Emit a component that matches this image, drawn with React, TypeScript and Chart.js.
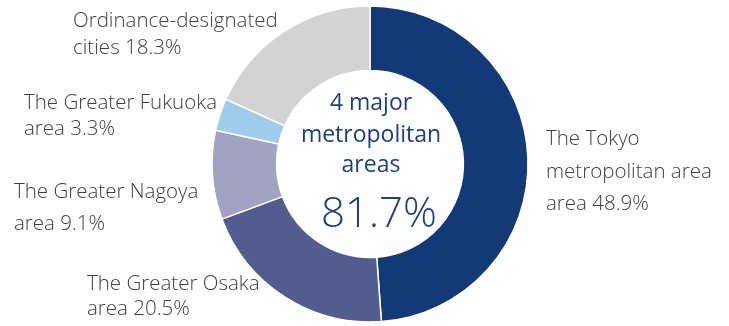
import React, { useEffect, useRef } from "react";
import { Chart, registerables } from "chart.js";

Chart.register(...registerables);

const categories = [
  "The Tokyo metropolitan area",
  "The Greater Osaka area",
  "The Greater Nagoya area",
  "The Greater Fukuoka area",
  "Ordinance-designated cities",
];
const shares = [48.9, 20.5, 9.1, 3.3, 18.3];
const colors = ["#133a77", "#525c8f", "#a2a2c2", "#a0cbeb", "#d3d3d3"];
const labelLines = [
  ["The Tokyo", "metropolitan area", "area 48.9%"],
  ["The Greater Osaka", "area 20.5%"],
  ["The Greater Nagoya", "area 9.1%"],
  ["The Greater Fukuoka", "area 3.3%"],
  ["Ordinance-designated", "cities 18.3%"],
];
const centerLines = ["4 major", "metropolitan", "areas"];
const centerValue = "81.7%";

// label layout: offset of left edge / baselines relative to doughnut centre
const labelLayout = [
  { dx: 176, dy: [-19, 14, 46] },
  { dx: -283, dy: [126, 151] },
  { dx: -356, dy: [34, 66] },
  { dx: -346, dy: [-55, -29] },
  { dx: -297, dy: [-137, -110] },
];

const FONT = "'Open Sans', 'Noto Sans', sans-serif";

const labelPlugin = {
  id: "customLabels",
  afterDraw(chart: any) {
    const meta = chart.getDatasetMeta(0);
    const arc = meta.data[0];
    if (!arc) return;
    const cx = arc.x;
    const cy = arc.y;
    const ctx = chart.ctx;
    ctx.save();
    ctx.fillStyle = "#404040";
    ctx.font = `300 20.5px ${FONT}`;
    ctx.textAlign = "left";
    ctx.textBaseline = "alphabetic";
    labelLines.forEach((lines, i) => {
      const l = labelLayout[i];
      lines.forEach((t, j) => {
        ctx.fillText(t, cx + l.dx, cy + l.dy[j]);
      });
    });
    ctx.fillStyle = "#1d3f7e";
    ctx.textAlign = "center";
    ctx.font = `400 23px ${FONT}`;
    const cdy = [-54, -22, 8];
    centerLines.forEach((t, j) => ctx.fillText(t, cx + 1, cy + cdy[j]));
    ctx.font = `300 42px ${FONT}`;
    ctx.fillText(centerValue, cx + 9, cy + 63);
    ctx.restore();
  },
};

export default function App() {
  const ref = useRef<HTMLCanvasElement | null>(null);
  useEffect(() => {
    document.body.style.margin = "0";
    const chart = new Chart(ref.current!, {
      type: "doughnut",
      data: {
        labels: categories,
        datasets: [
          {
            data: shares,
            backgroundColor: colors,
            borderColor: "#ffffff",
            borderWidth: 1.5,
            hoverOffset: 0,
            radius: 158,
            cutout: 93,
          } as any,
        ],
      },
      options: {
        animation: false,
        responsive: false,
        events: [],
        layout: { padding: { top: 6, bottom: 4, left: 60, right: 49 } },
        plugins: {
          legend: { display: false },
          tooltip: { enabled: false },
        },
      },
      plugins: [labelPlugin],
    });
    return () => chart.destroy();
  }, []);
  return (
    <div style={{ width: 729, height: 326, background: "#fff" }}>
      <canvas ref={ref} width={729} height={326} />
    </div>
  );
}
